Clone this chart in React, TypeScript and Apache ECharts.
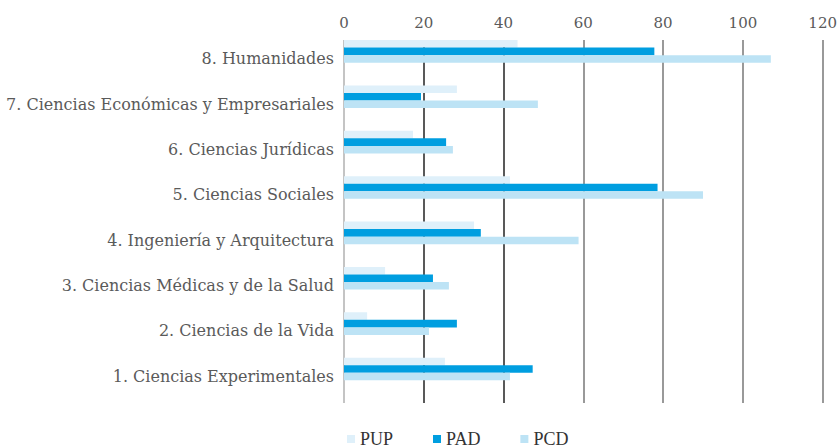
import React, { useEffect, useRef } from "react";
import * as echarts from "echarts";

const categories = [
  "1. Ciencias Experimentales",
  "2. Ciencias de la Vida",
  "3. Ciencias Médicas y de la Salud",
  "4. Ingeniería y Arquitectura",
  "5. Ciencias Sociales",
  "6. Ciencias Jurídicas",
  "7. Ciencias Económicas y Empresariales",
  "8. Humanidades",
];
const pupValues = [25.3, 5.8, 10.3, 32.6, 41.6, 17.3, 28.3, 43.5];
const padValues = [47.3, 28.3, 22.3, 34.3, 78.6, 25.6, 19.3, 77.8];
const pcdValues = [41.6, 21.3, 26.3, 58.8, 90, 27.3, 48.6, 107];
const seriesNames = ["PUP", "PAD", "PCD"];
const xTicks = { min: 0, max: 120, interval: 20 };

const FONT = "DejaVu Serif";

export default function App() {
  const ref = useRef<HTMLDivElement>(null);
  useEffect(() => {
    if (!ref.current) return;
    const chart = echarts.init(ref.current, null, { renderer: "svg" });
    const colors = ["#dff0fa", "#009ee0", "#bde3f5"];
    const values = [pupValues, padValues, pcdValues];
    const real = seriesNames.map((name, i) => ({
      name,
      type: "bar",
      data: values[i],
      itemStyle: { color: colors[i] },
      barGap: "0%",
      barCategoryGap: "0%",
    }));
    const dummy = [0, 1, 2].map((i) => ({
      name: "_d" + i,
      type: "bar",
      data: categories.map(() => "-"),
      barGap: "0%",
      barCategoryGap: "0%",
    }));
    chart.setOption({
      animation: false,
      textStyle: { fontFamily: FONT },
      grid: { left: 344, right: 16, top: 40, bottom: 45, containLabel: false },
      legend: {
        data: seriesNames.map((n, i) => ({ name: n, itemStyle: { color: colors[i] } })),
        left: 342,
        bottom: -5,
        itemWidth: 8,
        itemHeight: 8,
        itemGap: 40,
        icon: "rect",
        textStyle: { fontFamily: "Liberation Serif", fontSize: 18, color: "#333" },
      },
      xAxis: {
        type: "value",
        position: "top",
        min: xTicks.min,
        max: xTicks.max,
        interval: xTicks.interval,
        axisLine: { show: false },
        axisTick: { show: false },
        axisLabel: { color: "#5a5a5a", fontSize: 15, fontFamily: FONT, margin: 10 },
        splitLine: {
          show: true,
          lineStyle: {
            width: 1.5,
            color: ["#b0b0b0", "#222", "#222", "#777", "#777", "#777", "#777"],
          },
        },
      },
      yAxis: {
        type: "category",
        data: categories,
        axisLine: { show: false },
        axisTick: { show: false },
        axisLabel: {
          color: "#5a5a5a",
          fontSize: 16,
          fontFamily: FONT,
          margin: 10,
          verticalAlign: "bottom",
          lineHeight: 8,
        },
      },
      series: [...real, ...dummy],
    });
    return () => chart.dispose();
  }, []);
  return <div ref={ref} style={{ width: 840, height: 448, position: "absolute", left: 0, top: 0 }} />;
}
